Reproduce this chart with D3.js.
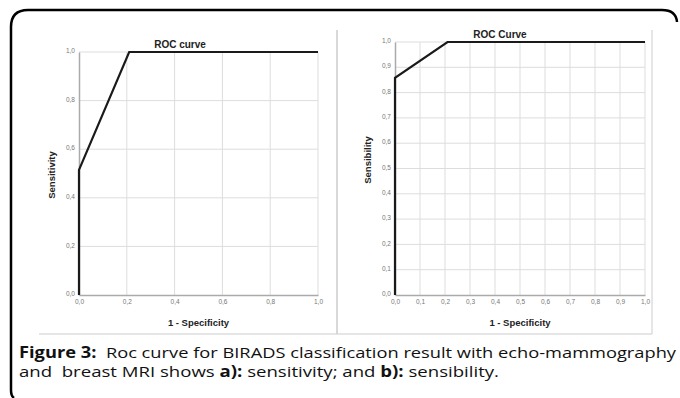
<!DOCTYPE html>
<html>
<head>
<meta charset="utf-8">
<script src="https://cdn.jsdelivr.net/npm/d3@7"></script>
<style>
	body { margin: 0; background: #fff; }
	svg { display: block; }
	.tick text { fill: #777; font-family: "Liberation Sans", Arial, sans-serif; font-size: 6.5px; }
	.title, .axis-label { font-family: "Liberation Sans", Arial, sans-serif; font-weight: bold; fill: #222; }
	.caption { font-family: "Open Sans", sans-serif; font-size: 15.2px; fill: #111; }
</style>
</head>
<body>
<div id="chart"></div>
<script>
// panel a) - sensitivity
const rocA = [
	{ fpr: 0, tpr: 0 },
	{ fpr: 0, tpr: 0.515 },
	{ fpr: 0.21, tpr: 1 },
	{ fpr: 1, tpr: 1 },
];
const ticksA = [0, 0.2, 0.4, 0.6, 0.8, 1.0];

// panel b) - sensibility
const rocB = [
	{ fpr: 0, tpr: 0 },
	{ fpr: 0, tpr: 0.858 },
	{ fpr: 0.21, tpr: 1 },
	{ fpr: 1, tpr: 1 },
];
const ticksB = [0, 0.1, 0.2, 0.3, 0.4, 0.5, 0.6, 0.7, 0.8, 0.9, 1.0];

const fmt = d => d3.format(".1f")(d).replace(".", ",");

const svg = d3.select("#chart")
	.append("svg")
	.attr("width", 680)
	.attr("height", 398);

// outer frame
svg.append("path")
	.attr("d", "M14,398 Q11,396 11,390 L11,27 Q11,10 28,10 L662,10 Q676,10 677,22")
	.attr("fill", "none")
	.attr("stroke", "#000")
	.attr("stroke-width", 2.5);

function drawPanel(cfg) {
	const g = svg.append("g");
	// image frame lines
	g.append("line")
		.attr("x1", cfg.frameLeft).attr("x2", cfg.frameRight)
		.attr("y1", 334).attr("y2", 334)
		.attr("stroke", "#ccc");
	g.append("line")
		.attr("x1", cfg.frameRight).attr("x2", cfg.frameRight)
		.attr("y1", 30).attr("y2", 334)
		.attr("stroke", "#ccc");
	if (cfg.frameLeftLine)
		g.append("line")
			.attr("x1", cfg.frameLeft).attr("x2", cfg.frameLeft)
			.attr("y1", 30).attr("y2", 334)
			.attr("stroke", "#ccc");

	const x = d3.scaleLinear().domain([0, 1]).range([cfg.x0, cfg.x1]);
	const y = d3.scaleLinear().domain([0, 1]).range([cfg.y0, cfg.y1]);

	// gridlines
	g.append("g").selectAll("line")
		.data(cfg.ticks.slice(1))
		.enter().append("line")
		.attr("x1", d => x(d)).attr("x2", d => x(d))
		.attr("y1", y(0)).attr("y2", y(1))
		.attr("stroke", "#ddd");
	g.append("g").selectAll("line")
		.data(cfg.ticks.slice(1))
		.enter().append("line")
		.attr("x1", x(0)).attr("x2", x(1))
		.attr("y1", d => y(d)).attr("y2", d => y(d))
		.attr("stroke", "#ddd");

	// axes
	const xAxis = d3.axisBottom(x).tickValues(cfg.ticks).tickFormat(fmt).tickSize(0).tickPadding(4);
	const xg = g.append("g")
		.attr("transform", "translate(0," + y(0) + ")")
		.call(xAxis);
	xg.select(".domain").attr("stroke", "#aaa").attr("stroke-width", 1.5);
	const yAxis = d3.axisLeft(y).tickValues(cfg.ticks).tickFormat(fmt).tickSize(0).tickPadding(4);
	const yg = g.append("g")
		.attr("transform", "translate(" + x(0) + ",0)")
		.call(yAxis);
	yg.select(".domain").attr("stroke", "#aaa").attr("stroke-width", 1.5);
	yg.selectAll(".tick text").attr("dy", "0.1em");

	// curve
	g.append("path")
		.datum(cfg.data)
		.attr("d", d3.line().x(d => x(d.fpr)).y(d => y(d.tpr)))
		.attr("fill", "none")
		.attr("stroke", "#1a1a1a")
		.attr("stroke-width", 2.2)
		.attr("stroke-linejoin", "miter");

	// titles
	g.append("text")
		.classed("title", true)
		.attr("x", cfg.titleX)
		.attr("y", y(1) - 4)
		.attr("text-anchor", "middle")
		.attr("font-size", 10)
		.text(cfg.title);
	g.append("text")
		.classed("axis-label", true)
		.attr("x", (x(0) + x(1)) / 2)
		.attr("y", 326)
		.attr("text-anchor", "middle")
		.attr("font-size", 9.5)
		.text("1 - Specificity");
	g.append("text")
		.classed("axis-label", true)
		.attr("transform", "translate(" + cfg.yLabelX + "," + cfg.yLabelY + ") rotate(-90)")
		.attr("text-anchor", "middle")
		.attr("font-size", 9.5)
		.text(cfg.yLabel);
}

drawPanel({
	data: rocA, ticks: ticksA, title: "ROC curve", yLabel: "Sensitivity",
	x0: 79, x1: 318, y0: 295, y1: 52, titleX: 180, yLabelX: 55, yLabelY: 175,
	frameLeft: 39, frameRight: 337, frameLeftLine: false,
});
drawPanel({
	data: rocB, ticks: ticksB, title: "ROC Curve", yLabel: "Sensibility",
	x0: 395, x1: 645, y0: 295, y1: 42, titleX: 500, yLabelX: 371, yLabelY: 160,
	frameLeft: 337, frameRight: 652, frameLeftLine: true,
});

// caption
const cap1 = svg.append("text").classed("caption", true)
	.attr("x", 19).attr("y", 358)
	.attr("textLength", 657).attr("lengthAdjust", "spacingAndGlyphs");
cap1.append("tspan").attr("font-weight", "bold").text("Figure 3:");
cap1.append("tspan").text("\u00a0 Roc curve for BIRADS classification result with echo-mammography");
const cap2 = svg.append("text").classed("caption", true)
	.attr("x", 19).attr("y", 377)
	.attr("textLength", 480).attr("lengthAdjust", "spacingAndGlyphs");
cap2.append("tspan").text("and \u00a0breast MRI shows ");
cap2.append("tspan").attr("font-weight", "bold").text("a):");
cap2.append("tspan").text(" sensitivity; and ");
cap2.append("tspan").attr("font-weight", "bold").text("b):");
cap2.append("tspan").text(" sensibility.");
</script>
</body>
</html>
